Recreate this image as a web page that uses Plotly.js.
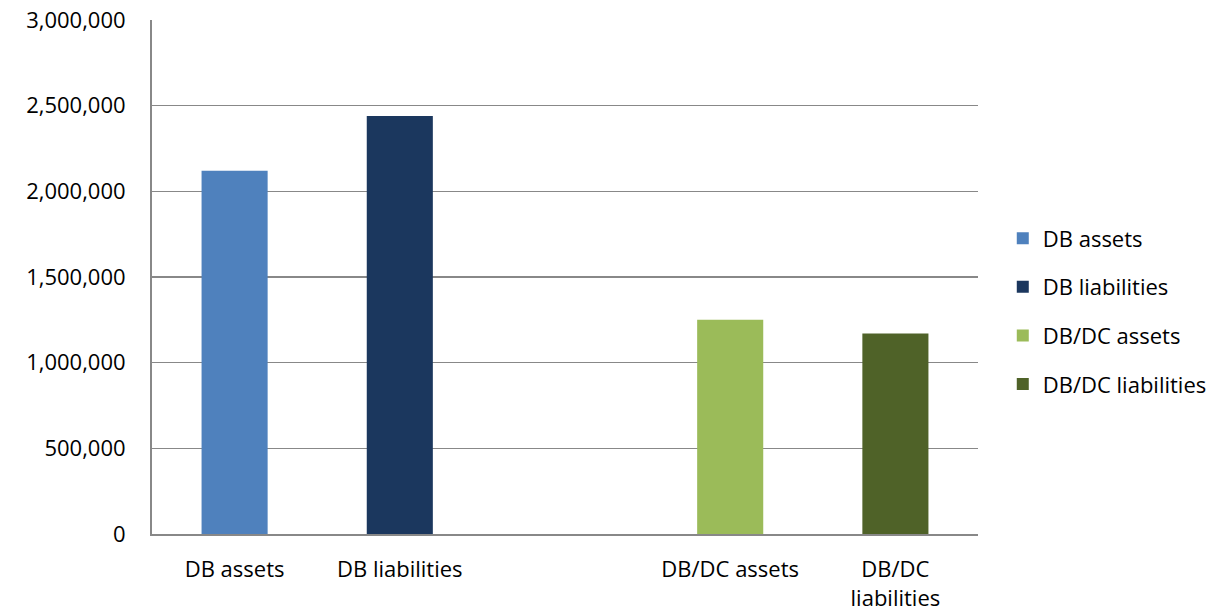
<!DOCTYPE html>
<html>
<head>
<meta charset="utf-8">
<script src="https://cdn.plot.ly/plotly-3.0.1.min.js"></script>
<style>html,body{margin:0;padding:0;background:#fff;}#chart{width:1218px;height:613px;}</style>
</head>
<body>
<div id="chart"></div>
<script>
const categories = ['DB assets', 'DB liabilities', '', 'DB/DC assets', 'DB/DC<br>liabilities'];
const seriesNames = ['DB assets', 'DB liabilities', 'DB/DC assets', 'DB/DC liabilities'];
const seriesCategoryIndex = [0, 1, 3, 4];
const seriesValues = [2120000, 2440000, 1250000, 1170000];
const seriesColors = ['#4F81BD', '#1B375E', '#9BBB59', '#4F6228'];
const yTickVals = [0, 500000, 1000000, 1500000, 2000000, 2500000, 3000000];
const yTickText = ['0', '500,000', '1,000,000', '1,500,000', '2,000,000', '2,500,000', '3,000,000'];

const FONT = '"Open Sans", sans-serif';
const FS = 22;
const traces = seriesNames.map((name, i) => ({
  type: 'bar',
  name: name,
  legendgroup: 'g' + i,
  x: [seriesCategoryIndex[i]],
  y: [seriesValues[i]],
  width: 0.4,
  marker: {color: seriesColors[i]},
  hoverinfo: 'name+y'
}));

const layout = {
  width: 1218, height: 613,
  margin: {l: 152, r: 240, t: 20, b: 79, autoexpand: false},
  paper_bgcolor: '#fff', plot_bgcolor: '#fff',
  barmode: 'overlay',
  font: {family: FONT, size: FS, color: '#000'},
  xaxis: {
    range: [-0.5, 4.5],
    tickvals: categories.map((c, i) => i),
    ticktext: categories,
    showgrid: false, zeroline: false,
    showline: true, linecolor: '#888', linewidth: 2,
    ticks: '', ticklabelstandoff: 15,
    tickfont: {family: FONT, size: FS, color: '#000'},
    fixedrange: true
  },
  yaxis: {
    range: [0, 3000000],
    tickvals: yTickVals, ticktext: yTickText,
    showgrid: true, gridcolor: '#888', gridwidth: 1.5,
    zeroline: false,
    showline: true, linecolor: '#888', linewidth: 2,
    ticks: '', ticklabelstandoff: 20,
    tickfont: {family: FONT, size: FS, color: '#000'},
    fixedrange: true
  },
  legend: {
    x: 1.03, xanchor: 'left', y: 0.433, yanchor: 'middle',
    font: {family: FONT, size: FS, color: '#000'},
    tracegroupgap: 17, itemwidth: 30,
    bgcolor: 'rgba(0,0,0,0)'
  },
  showlegend: true
};

Plotly.newPlot('chart', traces, layout, {displayModeBar: false, staticPlot: true});
</script>
</body>
</html>
